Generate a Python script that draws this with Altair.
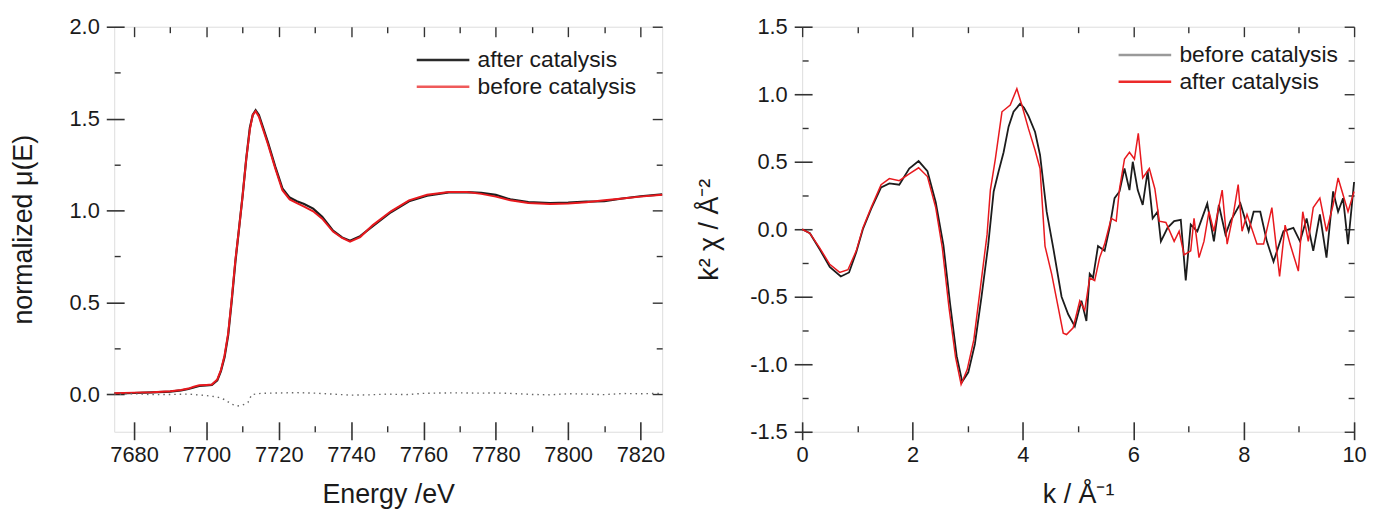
import altair as alt
import pandas as pd

# ---------------- Left panel: normalized XANES ----------------
E_before = [7674.5, 7680, 7685, 7690, 7693, 7695, 7696.5, 7698, 7700, 7701.5,
            7703, 7704, 7705, 7706, 7707, 7708, 7709, 7710, 7711, 7712,
            7712.8, 7713.6, 7714.5, 7715.5, 7717, 7719, 7721, 7723, 7725, 7727,
            7729.5, 7732, 7735, 7737.5, 7739.7, 7742.5, 7746, 7751, 7756, 7761,
            7767, 7772, 7776, 7780, 7784, 7789, 7795, 7800, 7805, 7810,
            7815, 7820, 7826]
mu_before = [0.005, 0.008, 0.01, 0.015, 0.022, 0.03, 0.04, 0.048, 0.05, 0.052,
             0.08, 0.13, 0.21, 0.33, 0.52, 0.73, 0.90, 1.08, 1.28, 1.44,
             1.52, 1.54, 1.51, 1.45, 1.36, 1.23, 1.11, 1.06, 1.04, 1.02,
             0.995, 0.955, 0.885, 0.85, 0.83, 0.855, 0.92, 0.995, 1.055, 1.085,
             1.10, 1.10, 1.09, 1.075, 1.055, 1.04, 1.035, 1.037, 1.045, 1.055,
             1.065, 1.075, 1.085]
E_after = E_before
mu_after = [0.003, 0.006, 0.009, 0.013, 0.02, 0.028, 0.036, 0.044, 0.047, 0.05,
            0.075, 0.125, 0.20, 0.32, 0.51, 0.72, 0.90, 1.08, 1.28, 1.45,
            1.52, 1.545, 1.52, 1.46, 1.37, 1.24, 1.12, 1.07, 1.05, 1.035,
            1.01, 0.965, 0.89, 0.853, 0.835, 0.86, 0.915, 0.99, 1.05, 1.08,
            1.098, 1.10, 1.095, 1.085, 1.06, 1.045, 1.04, 1.042, 1.048, 1.05,
            1.065, 1.077, 1.087]
E_diff = [7674.5, 7680, 7685, 7690, 7695, 7700, 7703, 7705, 7707, 7708.5,
          7710, 7711.5, 7712.5, 7715, 7720, 7725, 7730, 7735, 7740, 7745,
          7750, 7755, 7760, 7765, 7770, 7775, 7780, 7785, 7790, 7795,
          7800, 7805, 7810, 7815, 7820, 7826]
mu_diff = [0.0, 0.002, -0.003, -0.002, 0.0, -0.008, -0.016, -0.03, -0.055, -0.065,
           -0.06, -0.045, -0.003, 0.004, 0.006, 0.008, 0.005, 0.0, -0.006, -0.004,
           0.0, -0.003, 0.004, 0.006, 0.007, 0.005, 0.006, 0.003, -0.002, -0.004,
           0.002, 0.0, -0.003, 0.003, 0.002, 0.004]

# ---------------- Right panel: k^2-weighted EXAFS ----------------
k_before = [0.0, 0.14, 0.32, 0.50, 0.70, 0.85, 0.98, 1.10, 1.25, 1.43,
            1.58, 1.76, 1.94, 2.11, 2.27, 2.42, 2.56, 2.68, 2.80, 2.90,
            3.01, 3.13, 3.25, 3.37, 3.47, 3.56, 3.65, 3.74, 3.83, 3.95,
            4.02, 4.10, 4.22, 4.31, 4.43, 4.55, 4.70, 4.82, 4.94, 5.06,
            5.15, 5.21, 5.27, 5.36, 5.48, 5.57, 5.66, 5.75, 5.84, 5.93,
            5.99, 6.08, 6.17, 6.26, 6.35, 6.44, 6.50, 6.62, 6.74, 6.86,
            6.95, 7.04, 7.16, 7.34, 7.46, 7.55, 7.67, 7.76, 7.94, 8.09,
            8.18, 8.30, 8.42, 8.54, 8.72, 8.90, 9.02, 9.14, 9.26, 9.38,
            9.50, 9.62, 9.71, 9.80, 9.89, 10.0]
chi_before = [0.0, -0.03, -0.15, -0.28, -0.35, -0.32, -0.17, 0.0, 0.15, 0.31,
              0.34, 0.33, 0.45, 0.505, 0.43, 0.20, -0.12, -0.55, -0.94, -1.13,
              -1.06, -0.85, -0.50, -0.12, 0.28, 0.43, 0.57, 0.76, 0.87, 0.93,
              0.90, 0.84, 0.72, 0.55, 0.13, -0.14, -0.50, -0.63, -0.72, -0.53,
              -0.68, -0.33, -0.36, -0.125, -0.16, 0.01, 0.23, 0.28, 0.45, 0.29,
              0.50, 0.29, 0.18, 0.43, 0.08, 0.13, -0.09, 0.01, 0.06, 0.07,
              -0.38, 0.035, -0.015, 0.19, -0.09, 0.18, -0.04, 0.06, 0.19, -0.015,
              0.13, 0.13, -0.09, -0.24, -0.015, 0.01, -0.09, 0.08, -0.16, 0.11,
              -0.21, 0.28, 0.13, 0.23, -0.11, 0.35]
k_after = [0.0, 0.14, 0.32, 0.50, 0.68, 0.83, 0.98, 1.10, 1.25, 1.43,
           1.58, 1.76, 1.94, 2.11, 2.27, 2.42, 2.54, 2.66, 2.78, 2.88,
           2.99, 3.11, 3.23, 3.35, 3.41, 3.50, 3.62, 3.77, 3.89, 3.98,
           4.10, 4.22, 4.31, 4.40, 4.52, 4.64, 4.73, 4.79, 4.91, 5.03,
           5.12, 5.21, 5.30, 5.39, 5.48, 5.60, 5.69, 5.75, 5.84, 5.93,
           6.02, 6.09, 6.17, 6.29, 6.39, 6.47, 6.59, 6.74, 6.83, 6.92,
           7.04, 7.10, 7.19, 7.28, 7.37, 7.46, 7.61, 7.70, 7.82, 7.90,
           7.97, 8.06, 8.24, 8.36, 8.51, 8.65, 8.75, 8.84, 8.99, 9.07,
           9.17, 9.26, 9.38, 9.50, 9.62, 9.71, 9.80, 9.89, 10.0]
chi_after = [0.0, -0.03, -0.14, -0.26, -0.32, -0.30, -0.16, 0.01, 0.16, 0.33,
             0.375, 0.36, 0.41, 0.455, 0.39, 0.16, -0.14, -0.58, -0.95, -1.15,
             -1.04, -0.82, -0.43, -0.04, 0.29, 0.52, 0.87, 0.92, 1.04, 0.92,
             0.745, 0.585, 0.45, -0.125, -0.33, -0.58, -0.77, -0.78, -0.73, -0.53,
             -0.60, -0.36, -0.38, -0.21, -0.11, 0.08, 0.06, 0.30, 0.52, 0.57,
             0.52, 0.71, 0.38, 0.45, 0.30, 0.06, 0.05, -0.09, -0.015, -0.19,
             -0.16, 0.08, -0.21, -0.09, 0.13, -0.015, 0.29, -0.11, 0.13, 0.33,
             -0.015, 0.11, -0.11, -0.11, 0.16, -0.35, 0.03, -0.11, -0.31, 0.13,
             -0.09, 0.16, 0.23, -0.015, 0.18, 0.38, 0.255, 0.13, 0.28]

# ---------------- tick positions ----------------
xt_left = [7680, 7700, 7720, 7740, 7760, 7780, 7800, 7820]
xm_left = [7690, 7710, 7730, 7750, 7770, 7790, 7810]
yt_left = [0.0, 0.5, 1.0, 1.5, 2.0]
ym_left = [0.25, 0.75, 1.25, 1.75]
xt_right = [0, 2, 4, 6, 8, 10]
xm_right = [1, 3, 5, 7, 9]
yt_right = [-1.5, -1.0, -0.5, 0.0, 0.5, 1.0, 1.5]
ym_right = [-1.25, -0.75, -0.25, 0.25, 0.75, 1.25]

FONT = "Liberation Sans"
AX = "#333333"
TXT = "#1a1a1a"
BLACK = "#1c1c1c"
RED = "#e8191e"

left_df = pd.concat([
    pd.DataFrame({"E": E_after, "mu": mu_after, "series": "after catalysis"}),
    pd.DataFrame({"E": E_before, "mu": mu_before, "series": "before catalysis"}),
])
diff_df = pd.DataFrame({"E": E_diff, "mu": mu_diff})
right_df = pd.concat([
    pd.DataFrame({"k": k_before, "chi": chi_before, "series": "before catalysis"}),
    pd.DataFrame({"k": k_after, "chi": chi_after, "series": "after catalysis"}),
])


def main_axis(orient, values, title, label_expr, label_pad, title_pad):
    return alt.Axis(orient=orient, values=values, title=title, labelExpr=label_expr,
                    domain=False, grid=False, ticks=True, tickSize=18, offset=-10,
                    tickColor=AX, tickWidth=1.6, labelFontSize=22, labelFont=FONT,
                    labelColor=TXT, labelPadding=label_pad, labelFlush=False,
                    labelOverlap=False, titleFont=FONT, titleFontSize=27,
                    titleFontWeight="normal", titleColor=TXT, titlePadding=title_pad)


def tick_axis(orient, values, size):
    return alt.Axis(orient=orient, values=values, title=None, labels=False,
                    domain=False, grid=False, ticks=True, tickSize=size,
                    offset=-size, tickColor=AX, tickWidth=1.4)


def panel(df, xf, yf, xdom, ydom, xt, xm, yt, ym, xtitle, ytitle, xexpr, yexpr,
          cdomain, line_colors, legend_colors, legend_xy, width, extra=None,
          widths=(2.0, 2.0), ytitle_pad=26):
    xs = alt.Scale(domain=xdom, nice=False, zero=False)
    ys = alt.Scale(domain=ydom, nice=False, zero=False)
    first_series, second_series = cdomain
    leg = alt.Legend(
        title=None, orient="none", legendX=legend_xy[0], legendY=legend_xy[1],
        padding=0, labelFont=FONT, labelFontSize=23, labelColor=TXT,
        symbolType="M-1,0H3", symbolSize=702, symbolStrokeWidth=2.6,
        symbolOpacity=1, labelOffset=33, rowPadding=0)
    cs = alt.Scale(domain=cdomain, range=legend_colors)
    base = alt.Chart(df)
    l1 = base.transform_filter(alt.datum.series == first_series).mark_line(
        color=line_colors[0], strokeWidth=widths[0]).encode(
        x=alt.X(f"{xf}:Q", scale=xs, axis=main_axis("bottom", xt, xtitle, xexpr, 5, 16)),
        y=alt.Y(f"{yf}:Q", scale=ys, axis=main_axis("left", yt, ytitle, yexpr, 7, ytitle_pad)),
    )
    l2 = base.transform_filter(alt.datum.series == second_series).mark_line(
        color=line_colors[1], strokeWidth=widths[1]).encode(
        x=alt.X(f"{xf}:Q", scale=xs, axis=None),
        y=alt.Y(f"{yf}:Q", scale=ys, axis=None),
    )
    # invisible layer that only carries the series legend
    leg_layer = base.mark_line(opacity=0).encode(
        x=alt.X(f"{xf}:Q", scale=xs, axis=None),
        y=alt.Y(f"{yf}:Q", scale=ys, axis=None),
        color=alt.Color("series:N", scale=cs, legend=leg),
    )
    layers = [l1, l2, leg_layer]
    if extra is not None:
        layers.append(extra.encode(
            x=alt.X(f"{xf}:Q", scale=xs, axis=None),
            y=alt.Y(f"{yf}:Q", scale=ys, axis=None)))
    ghost = base.mark_line(opacity=0)
    layers.append(ghost.encode(
        x=alt.X(f"{xf}:Q", scale=xs, axis=tick_axis("bottom", xm, 6)),
        y=alt.Y(f"{yf}:Q", scale=ys, axis=tick_axis("left", ym, 6))))
    layers.append(ghost.encode(
        x=alt.X(f"{xf}:Q", scale=xs, axis=tick_axis("top", xt, 10)),
        y=alt.Y(f"{yf}:Q", scale=ys, axis=tick_axis("right", yt, 10))))
    layers.append(ghost.encode(
        x=alt.X(f"{xf}:Q", scale=xs, axis=tick_axis("top", xm, 6)),
        y=alt.Y(f"{yf}:Q", scale=ys, axis=tick_axis("right", ym, 6))))
    return alt.layer(*layers).resolve_axis(x="independent", y="independent").properties(
        width=width, height=408)


diff_layer = alt.Chart(diff_df).mark_line(color="#666666", strokeWidth=1.4,
                                          strokeDash=[1.5, 4])

left = panel(left_df, "E", "mu", [7674.5, 7826], [-0.205, 2.0],
             xt_left, xm_left, yt_left, ym_left,
             "Energy /eV", "normalized \u03bc(E)",
             "format(datum.value, 'd')", "format(datum.value, '.1f')",
             ["after catalysis", "before catalysis"], [BLACK, RED],
             ["#2a2a2a", "#ef5a5a"],
             (303, 18.5), 552, extra=diff_layer, widths=(2.2, 2.0), ytitle_pad=32)

right = panel(right_df, "k", "chi", [0, 10], [-1.5, 1.5],
              xt_right, xm_right, yt_right, ym_right,
              "k / \u00c5\u207b\u00b9", "k\u00b2 \u03c7 / \u00c5\u207b\u00b2",
              "format(datum.value, 'd')",
              "replace(format(datum.value, '.1f'), '\u2212', '-')",
              ["before catalysis", "after catalysis"], [BLACK, RED],
              ["#9a9a9a", "#ec2a2a"],
              (317, 13.5), 556, widths=(1.8, 1.5), ytitle_pad=26)

chart = alt.hconcat(left, right, spacing=28).resolve_scale(
    color="independent").resolve_legend(color="independent").properties(
    padding={"left": 0, "top": 5, "right": 0, "bottom": 5}).configure_view(
    stroke=AX, strokeWidth=2).configure(background="white")

chart.save("out.html", embed_options={"renderer": "svg", "actions": False})
